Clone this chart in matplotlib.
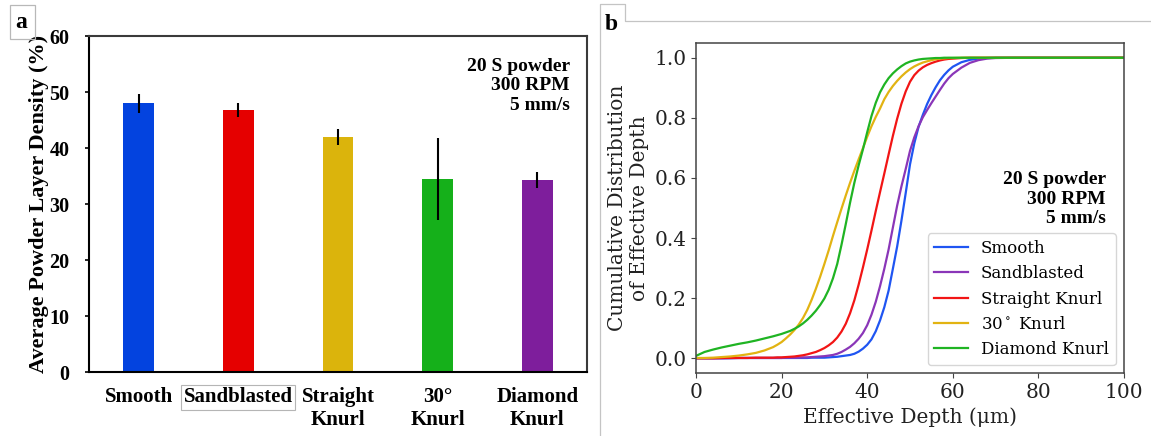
import matplotlib
matplotlib.use("Agg")
import matplotlib.pyplot as plt
from matplotlib.patches import Rectangle
from matplotlib.lines import Line2D

# ---------------- data: panel (a) ----------------
categories = ["Smooth", "Sandblasted", "Straight\nKnurl", "30°\nKnurl", "Diamond\nKnurl"]
density_mean = [48.0, 46.8, 42.0, 34.5, 34.3]
density_err = [1.7, 1.3, 1.4, 7.3, 1.4]
bar_colors = ["#0343df", "#e50000", "#dbb40c", "#15b01a", "#7e1e9c"]
density_ticks = [0, 10, 20, 30, 40, 50, 60]

# ---------------- data: panel (b) ----------------
series_labels = ["Smooth", "Sandblasted", "Straight Knurl", r"30$^\circ$ Knurl", "Diamond Knurl"]
line_colors = ["#1f55f2", "#8a36b8", "#f21515", "#e2b312", "#1fb423"]

depth = [0, 2, 4, 6, 8, 10, 12, 14, 16, 18,
         19, 20, 21, 22, 23, 24, 25, 26, 27, 28, 29, 30, 31, 32, 33, 34, 35, 36, 37, 38, 39,
         40, 41, 42, 43, 44, 45, 46, 47, 48, 49, 50, 51, 52, 53, 54, 55, 56, 57, 58, 59, 60,
         62, 64, 66, 68, 70, 75, 80, 90, 100]

cdf_smooth = [0.000, 0.000, 0.000, 0.000, 0.000, 0.001, 0.001, 0.001, 0.001, 0.001,
              0.001, 0.001, 0.001, 0.001, 0.001, 0.001, 0.001, 0.001, 0.002, 0.002, 0.002, 0.002, 0.003, 0.004, 0.005, 0.007, 0.009, 0.011, 0.015, 0.022, 0.032,
              0.045, 0.063, 0.090, 0.126, 0.170, 0.225, 0.298, 0.372, 0.458, 0.550, 0.645, 0.715, 0.770, 0.810, 0.846, 0.876, 0.902, 0.925, 0.943, 0.958, 0.970,
              0.985, 0.993, 0.997, 0.999, 1.000, 1.000, 1.000, 1.000, 1.000]

cdf_sandblasted = [0.000, 0.000, 0.000, 0.000, 0.001, 0.001, 0.001, 0.001, 0.001, 0.001,
                   0.001, 0.001, 0.002, 0.002, 0.002, 0.002, 0.003, 0.003, 0.004, 0.005, 0.006, 0.007, 0.009, 0.011, 0.015, 0.021, 0.029, 0.038, 0.050, 0.065, 0.084,
                   0.110, 0.145, 0.188, 0.240, 0.298, 0.362, 0.435, 0.508, 0.572, 0.630, 0.690, 0.735, 0.772, 0.802, 0.826, 0.849, 0.871, 0.893, 0.914, 0.932, 0.946,
                   0.967, 0.983, 0.992, 0.997, 0.999, 1.000, 1.000, 1.000, 1.000]

cdf_straight = [0.000, 0.000, 0.000, 0.001, 0.001, 0.001, 0.001, 0.002, 0.002, 0.002,
                0.003, 0.003, 0.004, 0.005, 0.006, 0.008, 0.010, 0.013, 0.017, 0.021, 0.027, 0.034, 0.043, 0.054, 0.069, 0.089, 0.115, 0.150, 0.193, 0.245, 0.302,
                0.362, 0.425, 0.490, 0.553, 0.615, 0.678, 0.740, 0.797, 0.847, 0.888, 0.920, 0.942, 0.957, 0.968, 0.976, 0.982, 0.987, 0.991, 0.994, 0.996, 0.997,
                0.999, 1.000, 1.000, 1.000, 1.000, 1.000, 1.000, 1.000, 1.000]

cdf_30deg = [0.001, 0.001, 0.002, 0.004, 0.006, 0.009, 0.013, 0.018, 0.026, 0.037,
             0.045, 0.054, 0.066, 0.079, 0.094, 0.112, 0.134, 0.161, 0.194, 0.231, 0.271, 0.314, 0.359, 0.407, 0.453, 0.498, 0.542, 0.584, 0.624, 0.662, 0.699,
             0.737, 0.772, 0.803, 0.831, 0.862, 0.886, 0.906, 0.923, 0.938, 0.951, 0.962, 0.971, 0.978, 0.984, 0.988, 0.992, 0.995, 0.997, 0.998, 0.999, 0.999,
             1.000, 1.000, 1.000, 1.000, 1.000, 1.000, 1.000, 1.000, 1.000]

cdf_diamond = [0.008, 0.021, 0.029, 0.036, 0.042, 0.048, 0.053, 0.059, 0.066, 0.073,
               0.077, 0.081, 0.086, 0.091, 0.098, 0.106, 0.116, 0.128, 0.142, 0.158, 0.177, 0.199, 0.228, 0.266, 0.314, 0.378, 0.447, 0.518, 0.584, 0.642, 0.695,
               0.752, 0.806, 0.850, 0.885, 0.911, 0.932, 0.948, 0.961, 0.972, 0.981, 0.987, 0.991, 0.994, 0.996, 0.997, 0.998, 0.999, 0.999, 1.000, 1.000, 1.000,
               1.000, 1.000, 1.000, 1.000, 1.000, 1.000, 1.000, 1.000, 1.000]

curves = [cdf_smooth, cdf_sandblasted, cdf_straight, cdf_30deg, cdf_diamond]
depth_ticks = [0, 20, 40, 60, 80, 100]
cdf_ticks = [0.0, 0.2, 0.4, 0.6, 0.8, 1.0]

# ---------------- figure ----------------
plt.rcParams["mathtext.fontset"] = "dejavuserif"
W, H = 1151, 436
fig = plt.figure(figsize=(W / 100, H / 100), dpi=100)
fig.patch.set_facecolor("white")

times_bold = dict(family="Liberation Serif", weight="bold")

# ---- panel (a): bar chart ----
axa = fig.add_axes([89 / W, 1 - 372 / H, (587 - 89) / W, (372 - 36) / H])
x = list(range(len(categories)))
axa.bar(x, density_mean, width=0.31, color=bar_colors,
        yerr=density_err, error_kw=dict(ecolor="black", elinewidth=1.5, capsize=0))
axa.set_xlim(-0.5, 4.5)
axa.set_ylim(0, 60)
axa.set_yticks(density_ticks)
axa.set_yticklabels([str(t) for t in density_ticks], fontsize=14.5, **times_bold)
axa.set_xticks(x)
xt = axa.set_xticklabels(categories, fontsize=15, linespacing=1.15, **times_bold)
xt[1].set_bbox(dict(boxstyle="square,pad=0.12", fc="none", ec="#b5b5b5", lw=0.8))
axa.tick_params(axis="x", length=0, pad=11)
axa.tick_params(axis="y", length=3, width=1.2, pad=11)
axa.set_ylabel("Average Powder Layer Density (%)", fontsize=16, labelpad=0, **times_bold)
for side in ["left", "bottom"]:
    axa.spines[side].set_linewidth(1.5)
    axa.spines[side].set_color("black")
for side in ["top", "right"]:
    axa.spines[side].set_linewidth(1.5)
    axa.spines[side].set_color("#3a3a3a")
axa.text(0.966, 0.935, "20 S powder\n300 RPM\n5 mm/s", transform=axa.transAxes,
         ha="right", va="top", multialignment="right", fontsize=14, **times_bold)

# ---- panel (b): cumulative distributions ----
axb = fig.add_axes([696 / W, 1 - 373.3 / H, (1124 - 696) / W, (373.3 - 42.7) / H])
for vals, col, lab in zip(curves, line_colors, series_labels):
    axb.plot(depth, vals, color=col, lw=1.6, label=lab)
axb.set_xlim(0, 100)
axb.set_ylim(-0.05, 1.05)
axb.set_xticks(depth_ticks)
axb.set_yticks(cdf_ticks)
axb.set_xticklabels([str(t) for t in depth_ticks], family="DejaVu Serif", fontsize=14.5, color="#222222")
axb.set_yticklabels([f"{t:.1f}" for t in cdf_ticks], family="DejaVu Serif", fontsize=14.5, color="#222222")
axb.tick_params(color="#444444")
for sp in axb.spines.values():
    sp.set_color("#444444")
    sp.set_linewidth(1.1)
axb.set_xlabel("Effective Depth (μm)", family="DejaVu Serif", fontsize=14.5, color="#222222")
axb.set_ylabel("Cumulative Distribution\nof Effective Depth", family="DejaVu Serif",
               fontsize=14.5, color="#222222")
axb.legend(loc="lower right", prop=dict(family="DejaVu Serif", size=12))
axb.text(0.958, 0.612, "20 S powder\n300 RPM\n5 mm/s", transform=axb.transAxes,
         ha="right", va="top", multialignment="right", fontsize=14, **times_bold)

# ---- panel tags and frames ----
fig.add_artist(Rectangle((10 / W, 1 - 39 / H), 25 / W, 34 / H, transform=fig.transFigure,
                         fill=False, ec="#b8b8b8", lw=0.9))
fig.text(21 / W, 1 - 23 / H, "a", ha="center", va="center", fontsize=17, **times_bold)
fig.add_artist(Line2D([600 / W, 600 / W, 625 / W, 625 / W, 1.0],
                      [0, 1 - 4 / H, 1 - 4 / H, 1 - 21 / H, 1 - 21 / H],
                      transform=fig.transFigure, color="#c4c4c4", lw=0.9))
fig.text(611 / W, 1 - 25 / H, "b", ha="center", va="center", fontsize=17, **times_bold)

fig.savefig("out.png", dpi=100)
